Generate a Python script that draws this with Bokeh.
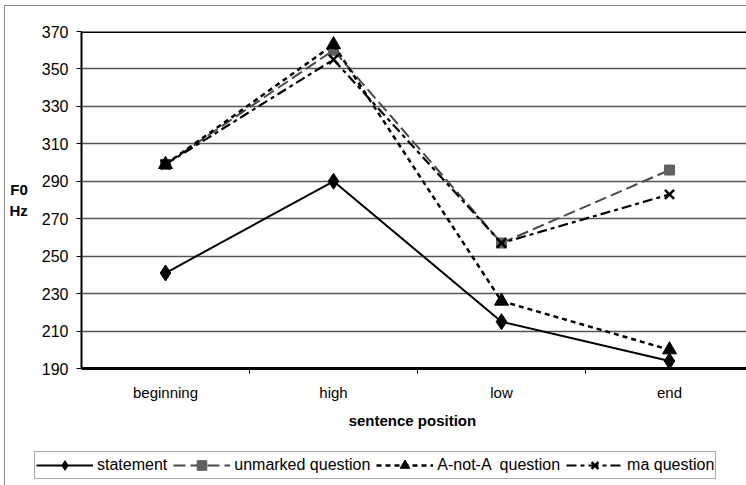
from bokeh.plotting import figure
from bokeh.models import (FixedTicker, Span, Legend, LegendItem, ColumnDataSource)
from bokeh.embed import file_html
from bokeh.resources import INLINE

categories = ["beginning", "high", "low", "end"]
statement = [241, 290, 215, 194]
unmarked_question = [299, 360, 257, 296]
a_not_a_question = [299, 363, 226, 200]
ma_question = [299, 355, 257, 283]
y_ticks = [190, 210, 230, 250, 270, 290, 310, 330, 350, 370]
series_names = ["statement", "unmarked question", "A-not-A  question", "ma question"]

FONT = "Liberation Sans"
xs = [i + 0.5 for i in range(len(categories))]

styles = [
    dict(line=dict(line_color="black", line_width=2, line_dash="solid"),
         mark=dict(marker="diamond", size=16, fill_color="black", line_color="black")),
    dict(line=dict(line_color="#4a4a4a", line_width=2, line_dash="12 5"),
         mark=dict(marker="square", size=10, fill_color="#606060", line_color="#606060")),
    dict(line=dict(line_color="black", line_width=2.5, line_dash="5 4"),
         mark=dict(marker="triangle", size=14, fill_color="black", line_color="black")),
    dict(line=dict(line_color="black", line_width=2.2, line_dash="10 4 4 4"),
         mark=dict(marker="x", size=13, line_color="black", line_width=2.5)),
]

p = figure(width=742, height=440, output_backend="svg", toolbar_location=None,
           x_range=(0, 666 / 168), y_range=(190, 370),
           min_border_left=76, min_border_top=25, min_border_right=0,
           min_border_bottom=78)
p.margin = (5, 0, 0, 4)
p.styles = {"border-left": "1px solid #8a8a8a", "border-top": "1px solid #8a8a8a"}
p.outline_line_color = None
p.background_fill_color = "white"
p.border_fill_color = "white"

# x axis
p.xaxis.ticker = FixedTicker(ticks=xs, minor_ticks=[1, 2, 3])
p.xaxis.major_label_overrides = {x: c for x, c in zip(xs, categories)}
p.xaxis.major_tick_out = 0
p.xaxis.major_tick_in = 0
p.xaxis.minor_tick_out = 5
p.xaxis.minor_tick_in = 0
p.xaxis.minor_tick_line_color = "black"
p.xaxis.axis_line_width = 3
p.xaxis.axis_line_color = "black"
p.xaxis.major_label_text_font = FONT
p.xaxis.major_label_text_font_size = "15px"
p.xaxis.major_label_text_color = "black"
p.xaxis.major_label_standoff = 10
p.xaxis.axis_label = "sentence  position"
p.xaxis.axis_label_text_font = FONT
p.xaxis.axis_label_text_font_size = "15px"
p.xaxis.axis_label_text_font_style = "bold"
p.xaxis.axis_label_text_color = "black"
p.xaxis.axis_label_standoff = 8

# y axis
p.yaxis.ticker = FixedTicker(ticks=y_ticks)
p.yaxis.minor_tick_line_color = None
p.yaxis.major_tick_out = 5
p.yaxis.major_tick_in = 0
p.yaxis.major_tick_line_color = "black"
p.yaxis.axis_line_width = 2
p.yaxis.axis_line_color = "black"
p.yaxis.major_label_text_font = FONT
p.yaxis.major_label_text_font_size = "16px"
p.yaxis.major_label_text_color = "black"
p.yaxis.major_label_standoff = 8
p.yaxis.axis_label = "F0\nHz"
p.yaxis.axis_label_orientation = "horizontal"
p.yaxis.axis_label_text_font = FONT
p.yaxis.axis_label_text_font_size = "15px"
p.yaxis.axis_label_text_font_style = "bold"
p.yaxis.axis_label_text_color = "black"
p.yaxis.axis_label_standoff = 11

p.xgrid.grid_line_color = None
p.ygrid.ticker = FixedTicker(ticks=y_ticks)
p.ygrid.grid_line_color = "#555555"
p.ygrid.grid_line_width = 1.3

p.add_layout(Span(location=370, dimension="width", line_color="black", line_width=3))

src = ColumnDataSource(dict(x=xs, s=statement, u=unmarked_question,
                            a=a_not_a_question, m=ma_question))
for col, st in zip(["s", "u", "a", "m"], styles):
    p.line("x", col, source=src, **st["line"])
    p.scatter("x", col, source=src, **st["mark"])

# legend strip: a second small figure so the legend can sit below the axis
p2 = figure(width=742, height=40, output_backend="svg", toolbar_location=None,
            x_range=(0, 1), y_range=(0, 1), x_axis_location=None, y_axis_location=None,
            min_border_left=29, min_border_top=6, min_border_right=0, min_border_bottom=0)
p2.margin = (0, 0, 0, 4)
p2.styles = {"border-left": "1px solid #8a8a8a"}
p2.outline_line_color = None
p2.grid.grid_line_color = None
p2.border_fill_color = "white"
p2.background_fill_color = "white"
items = []
for name, st in zip(series_names, styles):
    # sample renderers kept outside the visible range: only their legend swatch shows
    lr = p2.line([-5, -4], [-5, -4], **st["line"])
    mr = p2.scatter([-5], [-5], **st["mark"])
    items.append(LegendItem(label=name, renderers=[lr, mr]))

legend = Legend(items=items, orientation="horizontal", location="top_left")
legend.glyph_width = 57
legend.glyph_height = 24
legend.label_height = 18
legend.label_standoff = 4
legend.spacing = 6
legend.padding = 1
legend.margin = 0
legend.label_text_font = FONT
legend.label_text_font_size = "16px"
legend.label_text_color = "black"
legend.border_line_color = "#555555"
legend.border_line_width = 1.5
legend.background_fill_color = "white"
legend.background_fill_alpha = 1
p2.add_layout(legend, "center")

open("out.html", "w").write(file_html([p, p2], INLINE))
